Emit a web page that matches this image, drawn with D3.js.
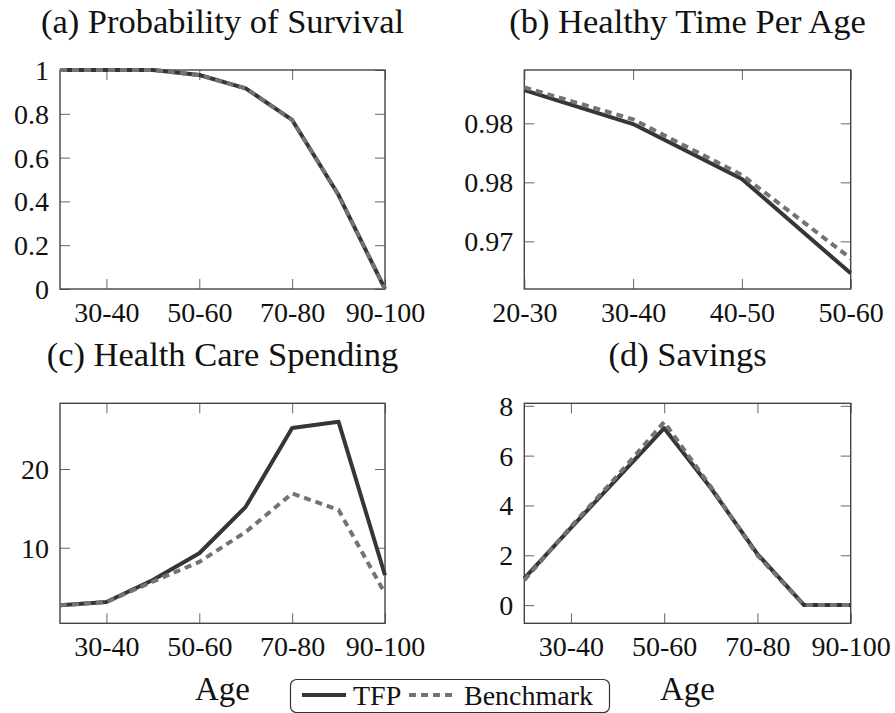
<!DOCTYPE html>
<html>
<head>
<meta charset="utf-8">
<script src="https://cdn.jsdelivr.net/npm/d3@7"></script>
<style>
  body { margin: 0; background: #fff; }
</style>
</head>
<body>
<svg id="chart" width="895" height="713"></svg>
<script>
// categories
var ages8 = ["20-30", "30-40", "40-50", "50-60", "60-70", "70-80", "80-90", "90-100"];
var ages4 = ["20-30", "30-40", "40-50", "50-60"];

// (a) probability of survival
var survTFP   = [1, 1, 1, 0.977, 0.916, 0.772, 0.429, 0];
var survBench = [1, 1, 1, 0.977, 0.916, 0.772, 0.429, 0];
var survTicks = [0, 0.2, 0.4, 0.6, 0.8, 1];
var survTickLabels = ["0", "0.2", "0.4", "0.6", "0.8", "1"];

// (b) healthy time per age
var healthTFP   = [0.98282, 0.97994, 0.97528, 0.96729];
var healthBench = [0.98305, 0.98034, 0.97562, 0.96856];
var healthTicks = [0.97, 0.975, 0.98];
var healthTickLabels = ["0.97", "0.98", "0.98"];

// (c) health care spending
var spendTFP   = [2.7, 3.1, 5.9, 9.3, 15.2, 25.2, 26.0, 6.5];
var spendBench = [2.7, 3.1, 5.7, 8.2, 12.0, 16.9, 14.8, 4.2];
var spendTicks = [10, 20];
var spendTickLabels = ["10", "20"];

// (d) savings
var saveTFP   = [1.07, 3.1, 5.1, 7.1, 4.7, 2.05, 0, 0];
var saveBench = [1.0, 3.15, 5.2, 7.35, 4.75, 2.0, 0, 0];
var saveTicks = [0, 2, 4, 6, 8];
var saveTickLabels = ["0", "2", "4", "6", "8"];

var seriesNames = ["TFP", "Benchmark"];

var FONT = "Liberation Serif";
var svg = d3.select('#chart').attr('font-family', FONT);
var colTFP = "#363636", colBench = "#737373";

function panel(opts) {
    var x = d3.scalePoint().domain(opts.cats).range([opts.x0, opts.x1]).padding(0),
        y = d3.scaleLinear().domain(opts.ydom).range([opts.y1, opts.y0]);
    var g = svg.append('g');

    var xt = opts.cats.filter(function (d, i) { return opts.every1 || i % 2 === 1; });

    // ticks: inward on all four sides
    g.append('g').attr('transform', 'translate(0,' + opts.y1 + ')')
        .call(d3.axisBottom(x).tickValues(xt).tickSize(-10).tickPadding(13));
    g.append('g').attr('transform', 'translate(0,' + opts.y0 + ')')
        .call(d3.axisTop(x).tickValues(xt).tickSize(-10).tickFormat(''));
    var left = g.append('g').attr('transform', 'translate(' + opts.x0 + ',0)')
        .call(d3.axisLeft(y).tickValues(opts.yticks).tickSize(-10).tickPadding(11)
            .tickFormat(function (d, i) { return opts.ylabels[i]; }));
    g.append('g').attr('transform', 'translate(' + opts.x1 + ',0)')
        .call(d3.axisRight(y).tickValues(opts.yticks).tickSize(-10).tickFormat(''));

    g.selectAll('.domain').remove();
    g.selectAll('g').attr('font-family', FONT);
    g.selectAll('.tick line').attr('stroke', '#666').attr('stroke-width', 1);
    g.selectAll('.tick text').attr('font-size', 28).attr('font-family', FONT).attr('fill', '#111');
    left.selectAll('.tick text').attr('dy', '0.34em');

    g.append('rect')
        .attr('x', opts.x0).attr('y', opts.y0)
        .attr('width', opts.x1 - opts.x0).attr('height', opts.y1 - opts.y0)
        .attr('fill', 'none').attr('stroke', '#444').attr('stroke-width', 1.4);

    var line = d3.line()
        .x(function (d, i) { return x(opts.cats[i]); })
        .y(function (d) { return y(d); });

    g.append('path').datum(opts.tfp)
        .attr('d', line).attr('fill', 'none')
        .attr('stroke', colTFP).attr('stroke-width', 4).attr('stroke-linejoin', 'round');
    g.append('path').datum(opts.bench)
        .attr('d', line).attr('fill', 'none')
        .attr('stroke', colBench).attr('stroke-width', 4).attr('stroke-dasharray', '7,5');

    g.append('text')
        .attr('x', (opts.x0 + opts.x1) / 2).attr('y', opts.y0 - 37)
        .attr('text-anchor', 'middle').attr('font-size', 34.5).attr('font-family', FONT).attr('fill', '#111')
        .text(opts.title);

    if (opts.xlabel) {
        g.append('text')
            .attr('x', (opts.x0 + opts.x1) / 2).attr('y', opts.y1 + 77)
            .attr('text-anchor', 'middle').attr('font-size', 33).attr('font-family', FONT).attr('fill', '#111')
            .text(opts.xlabel);
    }
}

panel({ title: "(a) Probability of Survival", cats: ages8, tfp: survTFP, bench: survBench,
        ydom: [0, 1], yticks: survTicks, ylabels: survTickLabels,
        x0: 60, x1: 385, y0: 70, y1: 289 });
panel({ title: "(b) Healthy Time Per Age", cats: ages4, tfp: healthTFP, bench: healthBench,
        ydom: [0.96596, 0.98452], yticks: healthTicks, ylabels: healthTickLabels, every1: true,
        x0: 524.3, x1: 850.7, y0: 70, y1: 289 });
panel({ title: "(c) Health Care Spending", cats: ages8, tfp: spendTFP, bench: spendBench,
        ydom: [0.4, 28.35], yticks: spendTicks, ylabels: spendTickLabels, xlabel: "Age",
        x0: 60, x1: 385, y0: 403.3, y1: 623.3 });
panel({ title: "(d) Savings", cats: ages8, tfp: saveTFP, bench: saveBench,
        ydom: [-0.73, 8.1], yticks: saveTicks, ylabels: saveTickLabels, xlabel: "Age",
        x0: 524.3, x1: 850.7, y0: 403.3, y1: 623.3 });

// legend
var leg = svg.append('g');
leg.append('rect')
    .attr('x', 290.5).attr('y', 679.5).attr('width', 319).attr('height', 33)
    .attr('rx', 6).attr('fill', '#fff').attr('stroke', '#333').attr('stroke-width', 1.2);
var legItems = [
    { name: seriesNames[0], x: 302, col: colTFP, dash: null },
    { name: seriesNames[1], x: 409, col: colBench, dash: '7,5' }
];
legItems.forEach(function (d) {
    leg.append('line')
        .attr('x1', d.x).attr('x2', d.x + 44).attr('y1', 695).attr('y2', 695)
        .attr('stroke', d.col).attr('stroke-width', 4).attr('stroke-dasharray', d.dash);
    leg.append('text')
        .attr('x', d.x + 51 + (d.dash ? 4 : 0)).attr('y', 705)
        .attr('font-size', 28).attr('font-family', FONT).attr('fill', '#111')
        .text(d.name);
});
</script>
</body>
</html>
